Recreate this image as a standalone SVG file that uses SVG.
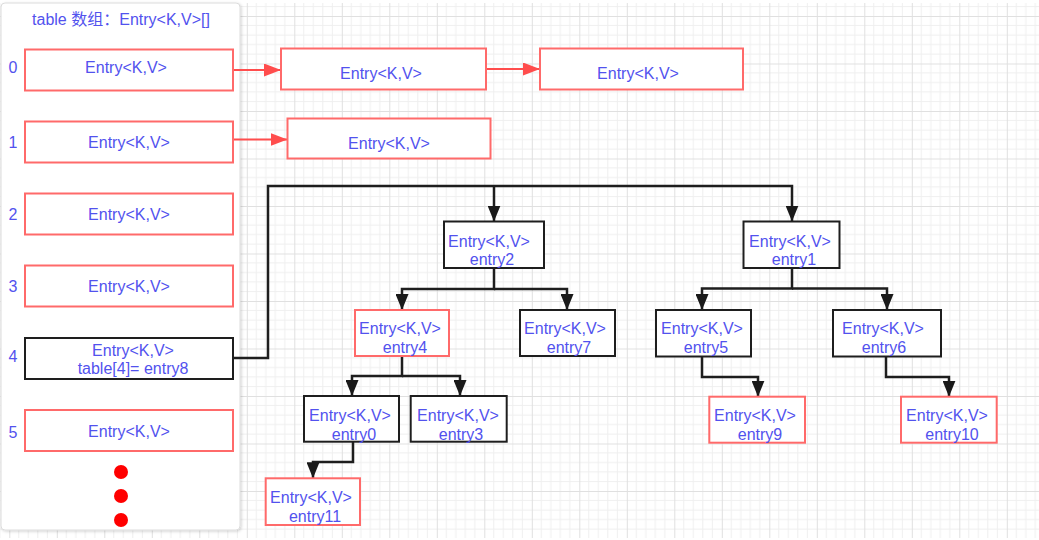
<svg xmlns="http://www.w3.org/2000/svg" width="1039" height="540" viewBox="0 0 1039 540">
<defs>
<pattern id="grid" patternUnits="userSpaceOnUse" x="9.3" y="16" width="47.5" height="47.5">
<path d="M9.5,0V47.5M19,0V47.5M28.5,0V47.5M38,0V47.5M0,9.5H47.5M0,19H47.5M0,28.5H47.5M0,38H47.5" stroke="#efefef" stroke-width="1" fill="none"/>
<path d="M0.5,0V47.5M0,0.5H47.5" stroke="#e0e0e0" stroke-width="1" fill="none"/>
</pattern>
<filter id="sh" x="-5%" y="-5%" width="110%" height="110%">
<feDropShadow dx="1" dy="1" stdDeviation="1.5" flood-color="#000" flood-opacity="0.18"/>
</filter>
<marker id="ab" markerUnits="userSpaceOnUse" markerWidth="16" markerHeight="13" refX="16" refY="6.5" orient="auto">
<path d="M0,0L16,6.5L0,13z" fill="#1a1a1a"/>
</marker>
<marker id="ar" markerUnits="userSpaceOnUse" markerWidth="17" markerHeight="13" refX="17" refY="6.5" orient="auto">
<path d="M0,0L17,6.5L0,13z" fill="#ff4d4d"/>
</marker>
</defs>
<style>
.t{font-family:"Liberation Sans","Noto Sans CJK SC",sans-serif;font-size:16px;fill:#5252ee;text-anchor:middle}
.r{fill:#fff;stroke:#ff6a6a;stroke-width:2}
.b{fill:#fff;stroke:#1e1e1e;stroke-width:2}
.cb{fill:none;stroke:#1e1e1e;stroke-width:2.5;marker-end:url(#ab)}
.cr{fill:none;stroke:#ff4d4d;stroke-width:2;marker-end:url(#ar)}
</style>
<rect x="0" y="0" width="1039" height="540" fill="#fff"/>
<rect x="0" y="3" width="1039" height="535" fill="url(#grid)"/>
<rect id="panel" x="1" y="3" width="239" height="527" rx="4" fill="#fff" stroke="#dcdcdc" stroke-width="1" filter="url(#sh)"/>
<text id="title" class="t" x="121" y="25">table 数组：Entry&lt;K,V&gt;[]</text>
<g id="indices">
<text class="t" x="13" y="73">0</text>
<text class="t" x="13" y="148">1</text>
<text class="t" x="13" y="220">2</text>
<text class="t" x="13" y="292">3</text>
<text class="t" x="13" y="362">4</text>
<text class="t" x="13" y="438">5</text>
</g>
<g id="connectors">
<path class="cr" d="M233,70H281"/>
<path class="cr" d="M486,69H540"/>
<path class="cr" d="M233,139.5H287.5"/>
<path class="cb" d="M233,358H268V186H792V221.5"/>
<path class="cb" d="M494,186V221.5"/>
<path class="cb" d="M494,268V289H402V310"/>
<path class="cb" d="M494,289H567V310"/>
<path class="cb" d="M792,268V288.5H702V310"/>
<path class="cb" d="M792,288.5H887V310"/>
<path class="cb" d="M402,356V376H352V396"/>
<path class="cb" d="M402,376H460V396"/>
<path class="cb" d="M702,357V377H758V396.7"/>
<path class="cb" d="M886,357V377H949V396.7"/>
<path class="cb" d="M353,442V462H313V478.3"/>
</g>
<g id="a0"><rect class="r" x="25" y="49.5" width="208" height="41"/><text class="t" x="126" y="73">Entry&lt;K,V&gt;</text></g>
<g id="a1"><rect class="r" x="25" y="121.5" width="208" height="41"/><text class="t" x="129" y="148">Entry&lt;K,V&gt;</text></g>
<g id="a2"><rect class="r" x="25" y="193.5" width="208" height="41"/><text class="t" x="129" y="220">Entry&lt;K,V&gt;</text></g>
<g id="a3"><rect class="r" x="25" y="265.5" width="208" height="41"/><text class="t" x="129" y="292">Entry&lt;K,V&gt;</text></g>
<g id="a4"><rect class="b" x="25" y="338" width="208" height="41"/><text class="t" x="133" y="355.5">Entry&lt;K,V&gt;</text><text class="t" x="133" y="374">table[4]= entry8</text></g>
<g id="a5"><rect class="r" x="25" y="410" width="208" height="41"/><text class="t" x="129" y="436.5">Entry&lt;K,V&gt;</text></g>
<g id="dots" fill="#ff0000"><circle cx="121" cy="472" r="7"/><circle cx="121" cy="496" r="7"/><circle cx="121" cy="520" r="7"/></g>
<g id="c0a"><rect class="r" x="281" y="48.5" width="205" height="41"/><text class="t" x="381" y="78.5">Entry&lt;K,V&gt;</text></g>
<g id="c0b"><rect class="r" x="540" y="48.5" width="203" height="41"/><text class="t" x="638" y="78.5">Entry&lt;K,V&gt;</text></g>
<g id="c1a"><rect class="r" x="287.5" y="118.5" width="203" height="40"/><text class="t" x="389" y="148.5">Entry&lt;K,V&gt;</text></g>
<g id="entry2"><rect class="b" x="444" y="221.5" width="100" height="46.5"/><text class="t" x="489" y="246.5">Entry&lt;K,V&gt;</text><text class="t" x="492" y="264.5">entry2</text></g>
<g id="entry1"><rect class="b" x="743.5" y="221.5" width="96" height="46.5"/><text class="t" x="790" y="246.5">Entry&lt;K,V&gt;</text><text class="t" x="794" y="264.5">entry1</text></g>
<g id="entry4"><rect class="r" x="355" y="310" width="94" height="46"/><text class="t" x="400" y="334">Entry&lt;K,V&gt;</text><text class="t" x="405" y="352.5">entry4</text></g>
<g id="entry7"><rect class="b" x="520" y="310" width="95" height="46"/><text class="t" x="565" y="334">Entry&lt;K,V&gt;</text><text class="t" x="569" y="352.5">entry7</text></g>
<g id="entry5"><rect class="b" x="656" y="310" width="95" height="46.5"/><text class="t" x="702" y="334">Entry&lt;K,V&gt;</text><text class="t" x="706" y="352.5">entry5</text></g>
<g id="entry6"><rect class="b" x="833" y="310" width="108" height="46.5"/><text class="t" x="883" y="334">Entry&lt;K,V&gt;</text><text class="t" x="884" y="352.5">entry6</text></g>
<g id="entry0"><rect class="b" x="304" y="396" width="95" height="45.7"/><text class="t" x="350" y="420.5">Entry&lt;K,V&gt;</text><text class="t" x="354" y="439.5">entry0</text></g>
<g id="entry3"><rect class="b" x="410.7" y="396" width="96" height="45.7"/><text class="t" x="458" y="420.5">Entry&lt;K,V&gt;</text><text class="t" x="461" y="439.5">entry3</text></g>
<g id="entry9"><rect class="r" x="709.3" y="396.7" width="95.7" height="46"/><text class="t" x="755" y="420.5">Entry&lt;K,V&gt;</text><text class="t" x="760" y="439.5">entry9</text></g>
<g id="entry10"><rect class="r" x="901" y="396.7" width="95.7" height="46"/><text class="t" x="947" y="420.5">Entry&lt;K,V&gt;</text><text class="t" x="952" y="439.5">entry10</text></g>
<g id="entry11"><rect class="r" x="265.7" y="478.3" width="94.3" height="46.7"/><text class="t" x="311" y="502.5">Entry&lt;K,V&gt;</text><text class="t" x="315" y="521.5">entry11</text></g>
</svg>
